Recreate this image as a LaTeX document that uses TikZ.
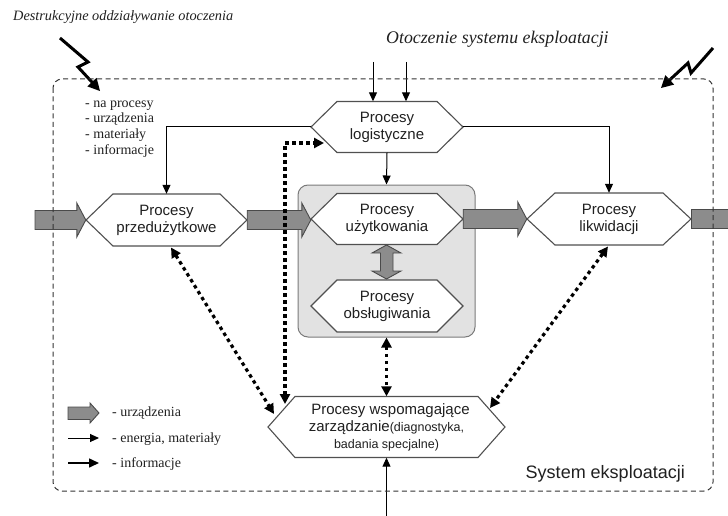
\documentclass[tikz,border=0pt]{standalone}
\usepackage{fontspec}
\setmainfont{Liberation Serif}
\setsansfont{Liberation Sans}
\usetikzlibrary{arrows.meta,calc}
\definecolor{hexc}{HTML}{505050}
\definecolor{txt}{HTML}{202020}
\definecolor{gfill}{HTML}{8C8C8C}
\definecolor{gline}{HTML}{4A4A4A}
\definecolor{boxfill}{HTML}{E2E2E2}
\definecolor{boxline}{HTML}{7A7A7A}
\definecolor{frc}{HTML}{333333}
\newcommand\hexa[7]{%
  \draw[hexline] ({#2-#4/2},#3) -- ({#2-#4/2+#6},{#3-#5/2}) -- ({#2+#4/2-#6},{#3-#5/2}) -- ({#2+#4/2},#3) -- ({#2+#4/2-#6},{#3+#5/2}) -- ({#2-#4/2+#6},{#3+#5/2}) -- cycle;
  \node[hexlabel, minimum width=#4pt, minimum height=#5pt] (#1) at (#2,#3) {#7};}
\newcommand\garr[2]{%
  \draw[garrow] let \p1=(#1), \p2=(#2) in
    (\x1,\y1+9.5pt) -- (\x2-9pt,\y1+9.5pt) -- (\x2-9pt,\y1+17pt) -- (\x2,\y1) --
    (\x2-9pt,\y1-17pt) -- (\x2-9pt,\y1-9.5pt) -- (\x1,\y1-9.5pt) -- cycle;}
\begin{document}
\begin{tikzpicture}[x=1pt,y=-1pt,
  hexline/.style={draw=hexc, line width=1.1pt, fill=white, line join=miter},
  hexlabel/.style={inner sep=0pt, font=\sffamily\fontsize{15}{17}\selectfont, align=center, text=txt},
  thinarr/.style={draw=black, line width=1pt, -{Triangle[length=9pt,width=8pt]}},
  infoarr/.style={draw=black, line width=3.2pt, dash pattern=on 3.5pt off 3.5pt, {Triangle[length=10pt,width=10pt]}-{Triangle[length=10pt,width=10pt]}},
  garrow/.style={fill=gfill, draw=gline, line width=0.9pt, line join=miter},
  framestyle/.style={draw=frc, line width=1pt, dash pattern=on 5pt off 3.5pt, rounded corners=9pt},
  bolt/.style={draw=black, line width=3pt, line join=miter},
  bolthead/.style={fill=black},
  legtext/.style={font=\fontsize{14}{16}\selectfont, anchor=base west, inner sep=0pt, text=txt},
]
\useasboundingbox (0,0) rectangle (728,516);

% titles
\node[anchor=base west, inner sep=0pt, font=\itshape\fontsize{14.3}{16}\selectfont, text=txt] (title) at (13,21) {Destrukcyjne oddziaływanie otoczenia};
\node[anchor=base west, inner sep=0pt, font=\itshape\fontsize{17.8}{19}\selectfont, text=txt] (env) at (386,44) {Otoczenie systemu eksploatacji};

% lightning bolts
\draw[bolt] (60,38) -- (88,62) -- (78,67) -- (92.5,82.7);
\fill[bolthead] (100,91) -- (87.3,86.4) -- (96.6,77.8) -- cycle;
\draw[bolt] (713,48) -- (691,73) -- (688,63) -- (669.2,80.4);
\fill[bolthead] (661,88) -- (665.3,75.1) -- (674.2,84.6) -- cycle;

% list
\node[legtext] (l1) at (85,108) {- na procesy};
\node[legtext] (l2) at (85,123) {- urządzenia};
\node[legtext] (l3) at (85,138.5) {- materiały};
\node[legtext] (l4) at (85,154) {- informacje};

% grey box
\node[draw=boxline, fill=boxfill, line width=1pt, rounded corners=10pt, minimum width=177pt, minimum height=152pt, inner sep=0pt] (box) at (386.5,261) {};

% hexagons
\hexa{log}{387}{127}{152}{51}{26}{Procesy\\logistyczne}
\hexa{uzy}{387}{219}{152}{51}{26}{Procesy\\użytkowania}
\hexa{obs}{387}{306}{152}{52}{26}{Procesy\\obsługiwania}
\hexa{prz}{166.5}{220}{161}{52}{27}{Procesy\\przedużytkowe}
\hexa{lik}{609}{219}{164}{52}{28}{Procesy\\likwidacji}
\hexa{wsp}{386.5}{427}{237}{61}{27}{\hspace*{8pt}Procesy wspomagające\\zarządzanie{\fontsize{12.5}{17}\selectfont(diagnostyka,}\\{\fontsize{12.5}{17}\selectfont badania specjalne)}}

% grey arrows (devices)
\coordinate (inL) at (35,220);
\garr{inL}{prz.west}
\garr{prz.east}{uzy.west}
\garr{uzy.east}{lik.west}
\fill[gfill] (lik.east) ++(0,-9.5) rectangle (728,228.5);
\draw[gline, line width=0.9pt] (728,209.5) -| (lik.east) |- (728,228.5);
% double arrow between użytkowania and obsługiwania
\draw[garrow] (380.5,{244+9}) -- (372,{244+9}) -- (386.5,245) -- (401,{244+9}) -- (393,{244+9}) -- (393,{280-9}) -- (401,{280-9}) -- (386.5,279) -- (372,{280-9}) -- (380.5,{280-9}) -- cycle;

% thin arrows (energy, materials)
\coordinate (top1) at (373,62);
\coordinate (top2) at (406,62);
\draw[thinarr] (top1) -- (top1 |- log.north);
\draw[thinarr] (top2) -- (top2 |- log.north);
\draw[thinarr] (log.west) -| (prz.north);
\draw[thinarr] (log.east) -| (lik.north);
\draw[thinarr] (log.south) -- (box.north);
\coordinate (bot) at (386.5,516);
\draw[thinarr] (bot) -- (wsp.south);

% information arrows
\coordinate (pa) at (171,247.5);
\coordinate (pb) at (274,414);
\draw[infoarr] (pa) -- (pb);
\coordinate (va) at (285,404);
\coordinate (vc) at (285,143);
\coordinate (vb) at (324,143);
\draw[infoarr] (va) -- (vc) -- (vb);
\draw[infoarr] (box.south) -- (wsp.north);
\coordinate (la) at (608,246.5);
\coordinate (lb) at (490,408);
\draw[infoarr] (la) -- (lb);

% frame
\draw[framestyle] (53,79) rectangle (713,491);
\node[anchor=base east, inner sep=0pt, font=\sffamily\fontsize{18}{20}\selectfont, text=txt] (sys) at (685,478) {System eksploatacji};

% legend
\draw[garrow] (68,407) -- (90,407) -- (90,403) -- (99,413) -- (90,423) -- (90,419.5) -- (68,419.5) -- cycle;
\node[legtext] (lg1) at (112,416) {- urządzenia};
\coordinate (e1) at (68,438);
\coordinate (e2) at (99,438);
\draw[thinarr] (e1) -- (e2);
\node[legtext] (lg2) at (112,442) {- energia, materiały};
\coordinate (i1) at (68,463);
\coordinate (i2) at (99,463);
\draw[draw=black, line width=1.6pt, -{Triangle[length=10pt,width=9pt]}] (i1) -- (i2);
\node[legtext] (lg3) at (112,467) {- informacje};
\end{tikzpicture}
\end{document}
